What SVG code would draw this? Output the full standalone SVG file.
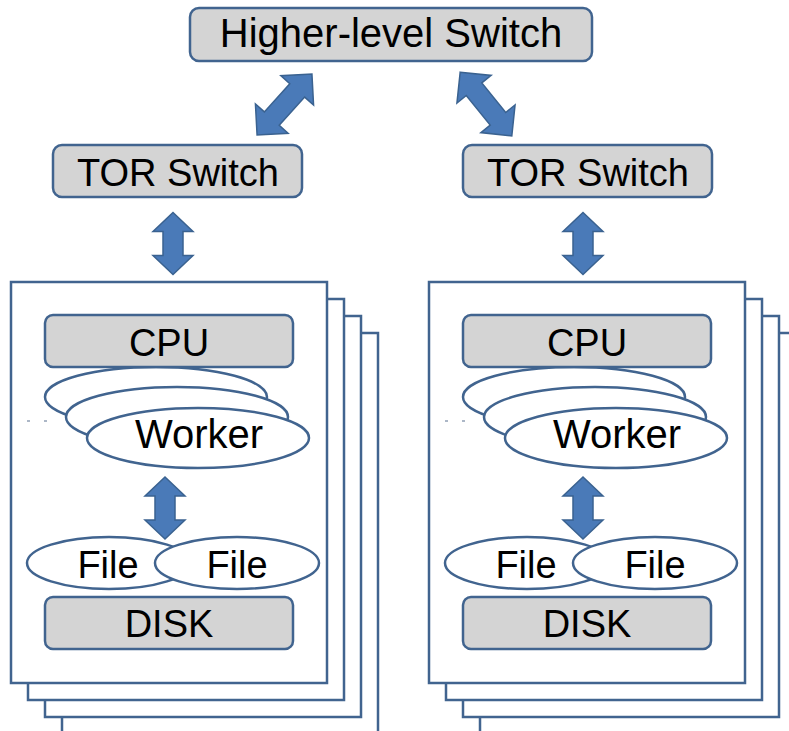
<svg xmlns="http://www.w3.org/2000/svg" width="789" height="731" viewBox="0 0 789 731">
<style>
.box{fill:#d4d4d4;stroke:#41648f;stroke-width:2.5}
.page{fill:#ffffff;stroke:#41648f;stroke-width:2.5}
.ell{fill:#ffffff;stroke:#41648f;stroke-width:2.5}
.arr{fill:#4a7ab8;stroke:#3a6290;stroke-width:1.5;stroke-linejoin:miter}
.t{font-family:"Liberation Sans",Arial,sans-serif;font-size:38px;fill:#000;text-anchor:middle}
.dash{stroke:#5a7090;stroke-width:1.2;stroke-dasharray:3 14}
</style>
<defs>
<path id="varr" d="M0,-31 L20,-12 L10,-12 L10,12 L20,12 L0,31 L-20,12 L-10,12 L-10,-12 L-20,-12 Z"/>
<path id="darr" d="M0,-41 L22,-19 L10,-19 L10,19 L22,19 L0,41 L-22,19 L-10,19 L-10,-19 L-22,-19 Z"/>
<g id="server">
<rect class="page" x="62" y="333" width="316" height="410"/>
<rect class="page" x="45" y="316" width="316" height="401"/>
<rect class="page" x="28" y="299" width="316" height="401"/>
<rect class="page" x="11" y="282" width="316" height="401"/>
<line class="dash" x1="27" y1="421" x2="50" y2="421"/>
<ellipse class="ell" cx="156" cy="397" rx="111" ry="30"/>
<ellipse class="ell" cx="177" cy="417" rx="111" ry="30"/>
<ellipse class="ell" cx="198" cy="438" rx="111" ry="30"/>
<rect class="box" x="45" y="315" width="248" height="52" rx="8"/>
<text class="t" x="169" y="356">CPU</text>
<text class="t" x="199" y="448" style="font-size:40px">Worker</text>
<use href="#varr" class="arr" transform="translate(165,508)"/>
<ellipse class="ell" cx="109" cy="563" rx="82" ry="26"/>
<ellipse class="ell" cx="237" cy="563" rx="82" ry="26"/>
<text class="t" x="108" y="578">File</text>
<text class="t" x="237" y="578">File</text>
<rect class="box" x="45" y="597" width="248" height="52" rx="8"/>
<text class="t" x="169" y="637">DISK</text>
</g>
</defs>
<g id="higher-switch">
<rect class="box" x="190" y="8" width="402" height="53" rx="9"/>
<text class="t" x="391" y="47" style="font-size:40px">Higher-level Switch</text>
</g>
<g id="tor-left">
<rect class="box" x="53" y="145" width="249" height="52" rx="9"/>
<text class="t" x="178" y="186">TOR Switch</text>
</g>
<g id="tor-right">
<rect class="box" x="463" y="145" width="249" height="52" rx="9"/>
<text class="t" x="588" y="186">TOR Switch</text>
</g>
<g id="server-left">
<use href="#server"/>
</g>
<g id="server-right">
<use href="#server" transform="translate(418,0)"/>
</g>
<g id="connectors">
<use href="#darr" class="arr" transform="translate(284.5,104.5) rotate(42)"/>
<use href="#darr" class="arr" transform="translate(486,104) rotate(-39)"/>
<use href="#varr" class="arr" transform="translate(173,243.5)"/>
<use href="#varr" class="arr" transform="translate(583,243.5)"/>
</g>
</svg>
